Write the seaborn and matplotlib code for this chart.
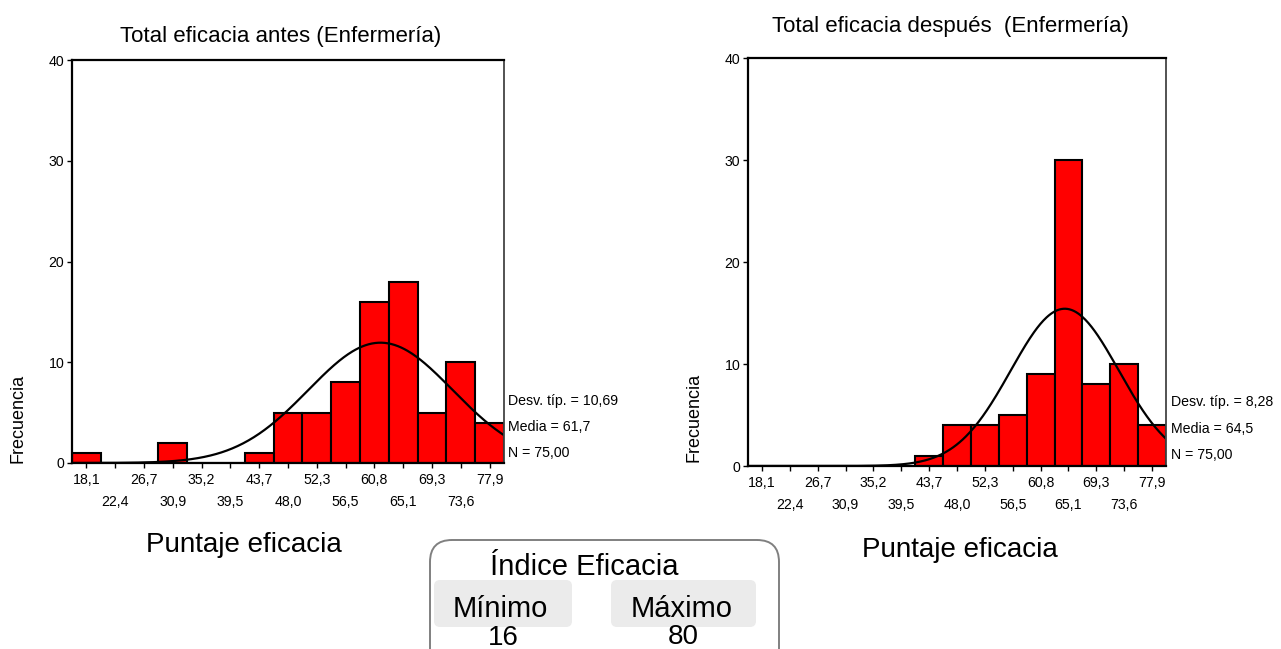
import numpy as np
import pandas as pd
import matplotlib
matplotlib.use('Agg')
import matplotlib.pyplot as plt
from matplotlib.patches import FancyBboxPatch
import seaborn as sns

# histogram bins (SPSS style: 15 bins between the min and max score)
score_min = 16
score_max = 80
bin_labels = ['18,1', '22,4', '26,7', '30,9', '35,2', '39,5', '43,7', '48,0',
              '52,3', '56,5', '60,8', '65,1', '69,3', '73,6', '77,9']
bin_centers = [18.1, 22.4, 26.7, 30.9, 35.2, 39.5, 43.7, 48.0,
               52.3, 56.5, 60.8, 65.1, 69.3, 73.6, 77.9]

# frequencies
counts_before = [1, 0, 0, 2, 0, 0, 1, 5, 5, 8, 16, 18, 5, 10, 4]
counts_after = [0, 0, 0, 0, 0, 0, 1, 4, 4, 5, 9, 30, 8, 10, 4]

# summary stats printed next to each plot
sd_before, mean_before, n_before = 10.69, 61.7, 75
sd_after, mean_after, n_after = 8.28, 64.5, 75

titles = ['Total eficacia antes (Enfermería)', 'Total eficacia después  (Enfermería)']

sns.set_theme(style='white')
plt.rcParams['font.family'] = ['Liberation Sans', 'DejaVu Sans']
plt.rcParams['text.color'] = 'black'

edges = np.linspace(score_min, score_max, len(bin_centers) + 1)
bin_width = edges[1] - edges[0]
mids = (edges[:-1] + edges[1:]) / 2

fig = plt.figure(figsize=(12.81, 6.49), dpi=100)
W, H = 1281, 649


def px_axes(left, top, right, bottom):
    return fig.add_axes([left / W, 1 - bottom / H, (right - left) / W, (bottom - top) / H])


def draw_panel(ax, counts, mean, sd, n):
    df = pd.DataFrame({'score': bin_centers, 'freq': counts})
    sns.histplot(data=df, x='score', weights='freq', bins=list(edges), color='#ff0000',
                 edgecolor='black', linewidth=1.5, alpha=1, ax=ax)
    # fitted normal curve scaled to counts
    xs = np.linspace(score_min, score_max, 400)
    ys = n * bin_width * np.exp(-0.5 * ((xs - mean) / sd) ** 2) / (sd * np.sqrt(2 * np.pi))
    sns.lineplot(x=xs, y=ys, color='black', linewidth=1.6, ax=ax)
    ax.set_xlim(score_min, score_max)
    ax.set_ylim(0, 40)
    ax.set_yticks([0, 10, 20, 30, 40])
    ax.set_xticks(mids)
    ax.set_xticklabels(bin_labels)
    ax.set_xlabel('')
    ax.set_ylabel('')
    ax.tick_params(axis='both', direction='out', length=3.5, width=1, color='black',
                   labelsize=10.2, labelcolor='black', left=True, bottom=True)
    ax.tick_params(axis='y', pad=2)
    ax.tick_params(axis='x', pad=4)
    for i, t in enumerate(ax.xaxis.get_major_ticks()):
        if i % 2 == 1:
            t.set_pad(19.5)
    for side in ['left', 'bottom', 'top']:
        ax.spines[side].set_color('black')
        ax.spines[side].set_linewidth(1.6)
    ax.spines['right'].set_color('#444444')
    ax.spines['right'].set_linewidth(1.3)
    ax.grid(False)


ax1 = px_axes(72, 60, 504, 463)
ax2 = px_axes(748, 58, 1166, 466)
draw_panel(ax1, counts_before, mean_before, sd_before, n_before)
draw_panel(ax2, counts_after, mean_after, sd_after, n_after)

# overlay in pixel coordinates for the free text and the index box
ov = fig.add_axes([0, 0, 1, 1], zorder=5)
ov.set_xlim(0, W)
ov.set_ylim(H, 0)
ov.axis('off')

ov.text(281, 42, titles[0], fontsize=16, ha='center', va='baseline')
ov.text(950, 32, titles[1], fontsize=16, ha='center', va='baseline')

for x, y in [(18.5, 418), (694, 417)]:
    ov.text(x, y, 'Frecuencia', fontsize=13, rotation=90, ha='center', va='center')
ov.text(244, 552, 'Puntaje eficacia', fontsize=20, ha='center', va='baseline')
ov.text(960, 557, 'Puntaje eficacia', fontsize=20, ha='center', va='baseline')


def fmt(v, dec):
    return f'{v:.{dec}f}'.replace('.', ',')


for x, ys, sd, mean, n in [(508, (405, 431, 457), sd_before, mean_before, n_before),
                           (1171, (406, 433, 459), sd_after, mean_after, n_after)]:
    ov.text(x, ys[0], f'Desv. típ. = {fmt(sd, 2)}', fontsize=10.2, va='baseline')
    ov.text(x, ys[1], f'Media = {fmt(mean, 1)}', fontsize=10.2, va='baseline')
    ov.text(x, ys[2], f'N = {fmt(n, 2)}', fontsize=10.2, va='baseline')

# index box
ov.add_patch(FancyBboxPatch((430, 540), 349, 140, boxstyle='round,pad=0,rounding_size=22',
                            facecolor='white', edgecolor='#808080', linewidth=1.4))
ov.add_patch(FancyBboxPatch((434, 580), 138, 47, boxstyle='round,pad=0,rounding_size=6',
                            facecolor='#ebebeb', edgecolor='none'))
ov.add_patch(FancyBboxPatch((611, 580), 145, 47, boxstyle='round,pad=0,rounding_size=6',
                            facecolor='#ebebeb', edgecolor='none'))
ov.text(584, 575, 'Índice Eficacia', fontsize=21, ha='center', va='baseline')
ov.text(500, 617, 'Mínimo', fontsize=21, ha='center', va='baseline')
ov.text(682, 617, 'Máximo', fontsize=21, ha='center', va='baseline')
ov.text(503, 645, str(score_min), fontsize=20, ha='center', va='baseline')
ov.text(683, 644, str(score_max), fontsize=20, ha='center', va='baseline')

fig.savefig('out.png', dpi=100)
